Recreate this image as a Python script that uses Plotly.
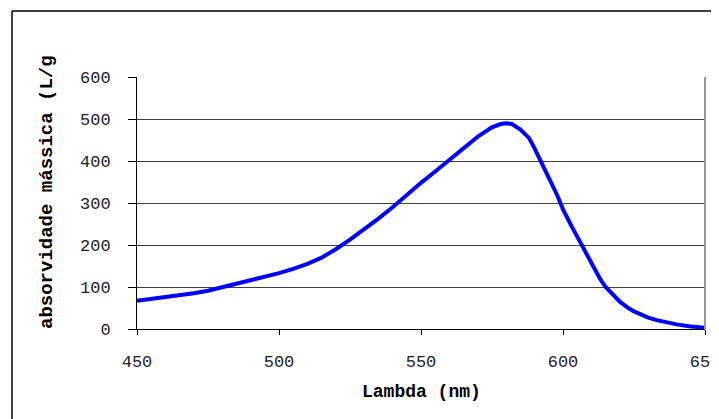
import plotly.graph_objects as go

wavelength = [450, 455, 460, 465, 470, 475, 480, 485, 490, 495, 500, 505, 510, 515, 520,
              525, 530, 535, 540, 545, 550, 555, 560, 565, 570, 575, 578, 580, 582, 585,
              588, 590, 593, 595, 598, 600, 603, 605, 608, 610, 613, 615, 618, 620, 623,
              625, 628, 630, 633, 635, 640, 645, 650]
absorvidade = [67, 71, 75, 79, 85, 91, 99, 108, 116, 124, 133, 143, 155, 170, 190,
               213, 237, 263, 290, 320, 348, 375, 402, 432, 458, 480, 488, 490, 488, 475,
               455, 430, 390, 360, 318, 285, 245, 220, 180, 155, 120, 100, 78, 65, 50,
               42, 33, 27, 21, 18, 11, 6, 3]

x_ticks = [450, 500, 550, 600, 650]
y_ticks = [0, 100, 200, 300, 400, 500, 600]
x_title = "Lambda (nm)"
y_title = "absorvidade mássica (L/g"

OFF = 8  # page body margin
W, H = 719 - OFF, 419 - OFF
L, R, T, B = 137 - OFF, 705 - OFF, 77 - OFF, 329 - OFF


def px(xp):
    return (xp - OFF - L) / (R - L)


def py(yp):
    return (B - (yp - OFF)) / (B - T)


fig = go.Figure()
fig.add_trace(go.Scatter(x=wavelength, y=absorvidade, mode="lines",
                         line=dict(color="#0000FF", width=4), showlegend=False,
                         cliponaxis=False))

tick_font = dict(family="Liberation Mono, Courier New, monospace", size=17, color="#222222")

fig.update_layout(
    width=W, height=H,
    margin=dict(l=L, r=W - R, t=T, b=H - B, autoexpand=False),
    paper_bgcolor="white", plot_bgcolor="white",
    xaxis=dict(range=[450, 650], tickvals=x_ticks, ticks="outside", ticklen=5,
               tickcolor="#000", showline=True, linecolor="#000", linewidth=1,
               showgrid=False, zeroline=False, tickfont=tick_font,
               ticklabelstandoff=12, ticklabeloverflow="allow", automargin=False),
    yaxis=dict(range=[0, 600], tickvals=y_ticks, ticks="outside", ticklen=8,
               tickcolor="#000", showline=True, linecolor="#000", linewidth=1,
               showgrid=True, gridcolor="#404040", gridwidth=1, zeroline=False,
               tickfont=tick_font, ticklabelstandoff=14, automargin=False),
)

# plot area right edge (gray)
fig.add_shape(type="line", xref="paper", yref="paper", x0=1, x1=1, y0=0, y1=1,
              line=dict(color="#999999", width=2))
# outer chart border
fig.add_shape(type="line", xref="paper", yref="paper", x0=px(12), x1=px(12),
              y0=py(11), y1=py(425), line=dict(color="#000", width=1.5))
fig.add_shape(type="line", xref="paper", yref="paper", x0=px(12), x1=px(725),
              y0=py(11), y1=py(11), line=dict(color="#000", width=1.5))

title_font = dict(family="Liberation Mono, Courier New, monospace", size=18,
                  color="#000", weight="bold")
fig.add_annotation(text=x_title, xref="paper", yref="paper", x=0.5, y=py(392),
                   xanchor="center", yanchor="middle", showarrow=False, font=title_font)
fig.add_annotation(text=y_title, xref="paper", yref="paper", x=px(47), y=py(331),
                   xanchor="center", yanchor="bottom", textangle=-90,
                   showarrow=False, font=dict(title_font, size=19))

fig.write_html("out.html")
